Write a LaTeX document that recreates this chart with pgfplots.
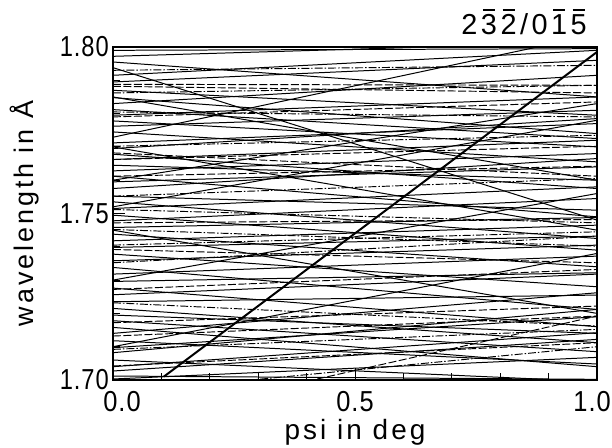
\documentclass[border=0pt]{standalone}
\usepackage{fontspec}
\setmainfont{Liberation Sans}
\newfontfamily\spaced[LetterSpace=11]{Liberation Sans}
\newfontfamily\tickf[LetterSpace=4]{Liberation Sans}
\usepackage{graphicx}
\usepackage{pgfplots}
\pgfplotsset{compat=1.18}
\newcommand\ob[1]{\leavevmode\hbox{\ooalign{#1\cr\hidewidth\raisebox{0.82em}{\rule{0.42em}{0.065em}}\hidewidth\cr}}}
\tikzset{
 sl/.style={black, line width=1.0pt},
 dl/.style={black, line width=0.95pt, dash pattern=on 8pt off 2.5pt},
 ddl/.style={black, line width=0.95pt, dash pattern=on 8pt off 2pt on 1.5pt off 2pt},
 tl/.style={font=\tickf\fontsize{29}{33}\selectfont, inner sep=0pt}
}
\begin{document}
\begin{tikzpicture}
\path[use as bounding box] (-113bp,-68bp) rectangle (499bp,380bp);
\begin{axis}[
 name=ax,
 scale only axis, width=484bp, height=333bp,
 xmin=0, xmax=1, ymin=1.70, ymax=1.80,
 xtick={0,0.5,1}, ytick={1.70,1.75,1.80},
 xticklabels={}, 
 minor x tick num=4, minor y tick num=4,
 tick pos=left, tick align=inside,
 major tick length=12bp, minor tick length=7bp,
 every tick/.style={black, line width=1.0pt},
 axis line style={line width=1.3pt},
 yticklabel={\scalebox{0.82}[1]{\pgfmathprintnumber[fixed,fixed zerofill,precision=2]{\tick}}},
 /pgf/number format/assume math mode=true,
 yticklabel style={font=\tickf\fontsize{29}{33}\selectfont, xshift=-1bp, inner sep=3bp},
 every axis x label/.style={at={(rel axis cs:0.5,-0.158)}, anchor=center, font=\spaced\fontsize{28}{32}\selectfont},
 every axis y label/.style={at={(rel axis cs:-0.182,0.5)}, rotate=90, anchor=center, font=\spaced\fontsize{27}{32}\selectfont},
 xlabel={psi in deg}, ylabel={wavelength in Å},
]
\addplot[sl] coordinates {(0,1.7990) (1,1.7995)};
\addplot[sl] coordinates {(0,1.7972) (1,1.8015)};
\addplot[sl] coordinates {(0,1.7955) (1,1.7850)};
\addplot[sl] coordinates {(0,1.7938) (1,1.7480)};
\addplot[sl] coordinates {(0,1.7915) (1,1.7990)};
\addplot[sl] coordinates {(0,1.7895) (1,1.7960)};
\addplot[sl] coordinates {(0,1.7870) (1,1.7795)};
\addplot[sl] coordinates {(0,1.7848) (1,1.7740)};
\addplot[sl] coordinates {(0,1.7830) (1,1.7915)};
\addplot[sl] coordinates {(0,1.7812) (1,1.7725)};
\addplot[sl] coordinates {(0,1.7795) (1,1.7850)};
\addplot[sl] coordinates {(0,1.7778) (1,1.7700)};
\addplot[sl] coordinates {(0,1.7762) (1,1.7810)};
\addplot[sl] coordinates {(0,1.7729) (1,1.8038)};
\addplot[sl] coordinates {(0,1.7745) (1,1.7655)};
\addplot[sl] coordinates {(0,1.7712) (1,1.7770)};
\addplot[sl] coordinates {(0,1.7695) (1,1.7785)};
\addplot[sl] coordinates {(0,1.7678) (1,1.7575)};
\addplot[sl] coordinates {(0,1.7662) (1,1.7720)};
\addplot[sl] coordinates {(0,1.7645) (1,1.7600)};
\addplot[sl] coordinates {(0,1.7628) (1,1.7680)};
\addplot[sl] coordinates {(0,1.7612) (1,1.7490)};
\addplot[sl] coordinates {(0,1.7595) (1,1.7640)};
\addplot[sl] coordinates {(0,1.7575) (1,1.7665)};
\addplot[sl] coordinates {(0,1.7552) (1,1.7510)};
\addplot[sl] coordinates {(0,1.7535) (1,1.7425)};
\addplot[sl] coordinates {(0,1.7515) (1,1.7580)};
\addplot[sl] coordinates {(0,1.7495) (1,1.7390)};
\addplot[sl] coordinates {(0,1.7478) (1,1.7545)};
\addplot[sl] coordinates {(0,1.7458) (1,1.7488)};
\addplot[sl] coordinates {(0,1.7438) (1,1.7340)};
\addplot[sl] coordinates {(0,1.7418) (1,1.7465)};
\addplot[sl] coordinates {(0,1.7398) (1,1.7432)};
\addplot[sl] coordinates {(0,1.7378) (1,1.7280)};
\addplot[sl] coordinates {(0,1.7358) (1,1.7405)};
\addplot[sl] coordinates {(0,1.7338) (1,1.7212)};
\addplot[sl] coordinates {(0,1.7318) (1,1.7372)};
\addplot[sl] coordinates {(0,1.7296) (1,1.7322)};
\addplot[sl] coordinates {(0,1.7276) (1,1.7160)};
\addplot[sl] coordinates {(0,1.7256) (1,1.7318)};
\addplot[sl] coordinates {(0,1.7235) (1,1.7255)};
\addplot[sl] coordinates {(0,1.7215) (1,1.7112)};
\addplot[sl] coordinates {(0,1.7195) (1,1.7140)};
\addplot[sl] coordinates {(0,1.7178) (1,1.7085)};
\addplot[sl] coordinates {(0,1.7158) (1,1.7040)};
\addplot[sl] coordinates {(0,1.7140) (1,1.7262)};
\addplot[sl] coordinates {(0,1.7118) (1,1.7048)};
\addplot[sl] coordinates {(0,1.7097) (1,1.7190)};
\addplot[sl] coordinates {(0,1.7082) (1,1.7212)};
\addplot[sl] coordinates {(0,1.7060) (1,1.6995)};
\addplot[sl] coordinates {(0,1.7040) (1,1.7142)};
\addplot[sl] coordinates {(0,1.7027) (1,1.7122)};
\addplot[sl] coordinates {(0,1.7012) (1,1.7002)};
\addplot[sl] coordinates {(0,1.7003) (1,1.7068)};
\addplot[sl] coordinates {(0,1.7700) (1,1.7450)};
\addplot[sl] coordinates {(0,1.7520) (1,1.7780)};
\addplot[sl] coordinates {(0,1.7300) (1,1.7560)};
\addplot[sl] coordinates {(0,1.7450) (1,1.7200)};
\addplot[sl] coordinates {(0,1.7850) (1,1.7600)};
\addplot[sl] coordinates {(0,1.7100) (1,1.7380)};
\addplot[sl] coordinates {(0,1.7600) (1,1.7830)};
\addplot[ddl] coordinates {(0,1.7930) (1,1.7945)};
\addplot[dl] coordinates {(0,1.7882) (1,1.7862)};
\addplot[ddl] coordinates {(0,1.7862) (1,1.7885)};
\addplot[dl] coordinates {(0,1.7888) (1,1.7885)};
\addplot[ddl] coordinates {(0,1.7805) (1,1.7790)};
\addplot[dl] coordinates {(0,1.7790) (1,1.7835)};
\addplot[ddl] coordinates {(0,1.7702) (1,1.7735)};
\addplot[dl] coordinates {(0,1.7682) (1,1.7612)};
\addplot[ddl] coordinates {(0,1.7552) (1,1.7605)};
\addplot[dl] coordinates {(0,1.7472) (1,1.7482)};
\addplot[ddl] coordinates {(0,1.7452) (1,1.7402)};
\addplot[dl] coordinates {(0,1.7392) (1,1.7352)};
\addplot[ddl] coordinates {(0,1.7352) (1,1.7432)};
\addplot[dl] coordinates {(0,1.7272) (1,1.7332)};
\addplot[ddl] coordinates {(0,1.7232) (1,1.7162)};
\addplot[dl] coordinates {(0,1.7132) (1,1.7192)};
\addplot[ddl] coordinates {(0,1.7092) (1,1.7152)};
\addplot[dl] coordinates {(0,1.7042) (1,1.7112)};
\addplot[dl] coordinates {(0,1.6865) (1,1.7192)};
\addplot[ddl] coordinates {(0,1.6960) (1,1.7100)};
\addplot[dl] coordinates {(0,1.7612) (1,1.7642)};
\addplot[ddl] coordinates {(0,1.7512) (1,1.7472)};
\addplot[dl] coordinates {(0,1.7662) (1,1.7702)};
\addplot[ddl] coordinates {(0,1.7405) (1,1.7445)};
\addplot[dl] coordinates {(0,1.7172) (1,1.7222)};
\addplot[black, line width=2.0pt] coordinates {(0.105,1.7010) (1,1.7985)};
\end{axis}
\node[tl, anchor=north] at ([xshift=9bp, yshift=-11bp]ax.south west) {\scalebox{0.88}[1]{0.0}};
\node[tl, anchor=north] at ([yshift=-11bp]ax.south) {\scalebox{0.88}[1]{0.5}};
\node[tl, anchor=north east] at ([xshift=14bp, yshift=-11bp]ax.south east) {\scalebox{0.88}[1]{1.0}};
\node[anchor=south east, inner sep=0pt, font=\fontsize{29}{33}\selectfont] at ([xshift=-10bp, yshift=12bp]ax.north east) {2\kern3.5pt\ob{3}\kern3.5pt\ob{2}\kern3.5pt/\kern3.5pt0\kern3.5pt\ob{1}\kern3.5pt\ob{5}};
\end{tikzpicture}
\end{document}
